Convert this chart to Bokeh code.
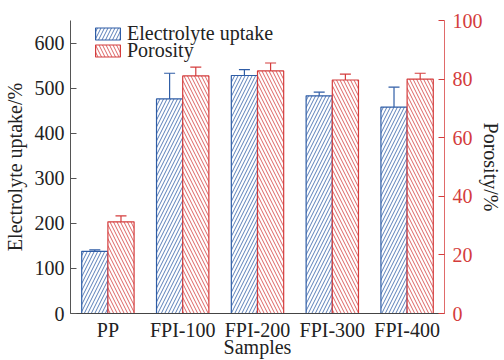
from bokeh.plotting import figure
from bokeh.models import (FactorRange, Range1d, LinearAxis, ColumnDataSource, Whisker,
                          Legend, LegendItem, FixedTicker, TeeHead)
from bokeh.transform import dodge
from bokeh.embed import file_html
from bokeh.resources import INLINE

samples = ["PP", "FPI-100", "FPI-200", "FPI-300", "FPI-400"]
uptake = [138, 476, 528, 483, 458]
uptake_err = [3, 57, 13, 8, 44]
porosity = [31.3, 81.1, 82.8, 79.7, 80.0]
porosity_err = [2.0, 3.0, 2.7, 2.0, 2.0]

BLUE = "#2F5DA6"
RED = "#D43C3C"
FONT = "Liberation Serif"
FS = "20px"
TXT = "#222222"

src = ColumnDataSource(dict(
    x=samples, up=uptake,
    up_lo=[u - e for u, e in zip(uptake, uptake_err)],
    up_hi=[u + e for u, e in zip(uptake, uptake_err)],
    por=porosity,
    por_lo=[u - e for u, e in zip(porosity, porosity_err)],
    por_hi=[u + e for u, e in zip(porosity, porosity_err)],
))

p = figure(width=504, height=360, x_range=FactorRange(*samples), y_range=Range1d(0, 650),
           output_backend="svg", toolbar_location=None,
           min_border_left=70, min_border_right=56, min_border_top=20, min_border_bottom=47)
p.extra_y_ranges = {"por": Range1d(0, 100)}
p.outline_line_color = None
p.xgrid.visible = False
p.ygrid.visible = False

r1 = p.vbar(x=dodge("x", -0.175, range=p.x_range), top="up", width=0.35, source=src,
            fill_color="white", line_color=BLUE, line_width=1.2,
            hatch_pattern="/", hatch_color=BLUE, hatch_scale=7, hatch_weight=0.8)
r2 = p.vbar(x=dodge("x", 0.175, range=p.x_range), top="por", width=0.35, source=src,
            y_range_name="por",
            fill_color="white", line_color=RED, line_width=1.2,
            hatch_pattern="\\", hatch_color=RED, hatch_scale=7, hatch_weight=0.8)

w1 = Whisker(base=dodge("x", -0.175, range=p.x_range), lower="up_lo", upper="up_hi", source=src,
             line_color=BLUE, line_width=1.2,
             upper_head=TeeHead(size=11, line_color=BLUE, line_width=1.2),
             lower_head=TeeHead(size=11, line_color=BLUE, line_width=1.2))
w2 = Whisker(base=dodge("x", 0.175, range=p.x_range), lower="por_lo", upper="por_hi", source=src,
             y_range_name="por", line_color=RED, line_width=1.2,
             upper_head=TeeHead(size=11, line_color=RED, line_width=1.2),
             lower_head=TeeHead(size=11, line_color=RED, line_width=1.2))
p.add_layout(w1)
p.add_layout(w2)

# left axis
ya = p.yaxis[0]
ya.ticker = FixedTicker(ticks=[0, 100, 200, 300, 400, 500, 600])
ya.axis_label = "Electrolyte uptake/%"
ya.major_tick_in = 6
ya.major_tick_out = 0
ya.minor_tick_line_color = None
ya.axis_line_color = "#555555"
ya.major_tick_line_color = "#555555"
ya.major_label_text_font = FONT
ya.major_label_text_font_size = FS
ya.major_label_text_color = TXT
ya.major_label_standoff = 6
ya.axis_label_text_font = FONT
ya.axis_label_text_font_size = FS
ya.axis_label_text_font_style = "normal"
ya.axis_label_text_color = TXT
ya.axis_label_standoff = 6

# right axis
ra = LinearAxis(y_range_name="por", ticker=FixedTicker(ticks=[0, 20, 40, 60, 80, 100]),
                axis_label="Porosity/%")
ra.major_tick_in = 6
ra.major_tick_out = 0
ra.minor_tick_line_color = None
ra.axis_line_color = "#E06A6A"
ra.major_tick_line_color = RED
ra.major_label_text_color = RED
ra.major_label_text_font = FONT
ra.major_label_text_font_size = FS
ra.major_label_standoff = 8
ra.axis_label_text_font = FONT
ra.axis_label_text_font_size = FS
ra.axis_label_text_font_style = "normal"
ra.axis_label_text_color = TXT
ra.axis_label_standoff = -6
p.add_layout(ra, "right")

# bottom axis
xa = p.xaxis[0]
xa.axis_label = "Samples"
xa.major_tick_line_color = None
xa.minor_tick_line_color = None
xa.axis_line_color = "#444444"
xa.major_label_text_font = FONT
xa.major_label_text_font_size = FS
xa.major_label_text_color = TXT
xa.major_label_standoff = -1
xa.axis_label_text_font = FONT
xa.axis_label_text_font_size = FS
xa.axis_label_text_font_style = "normal"
xa.axis_label_text_color = TXT
xa.axis_label_standoff = -8

common = dict(padding=0, spacing=0, margin=0, glyph_width=31, glyph_height=15,
              label_standoff=4, label_text_font=FONT, label_text_font_size=FS,
              label_text_color=TXT, label_height=15,
              border_line_color=None, background_fill_alpha=0)
leg1 = Legend(items=[LegendItem(label="Electrolyte uptake", renderers=[r1])],
              location=(22, 268), **common)
leg2 = Legend(items=[LegendItem(label="Porosity", renderers=[r2])],
              location=(22, 251), **common)
p.add_layout(leg1)
p.add_layout(leg2)

open("out.html", "w").write(file_html(p, INLINE))
